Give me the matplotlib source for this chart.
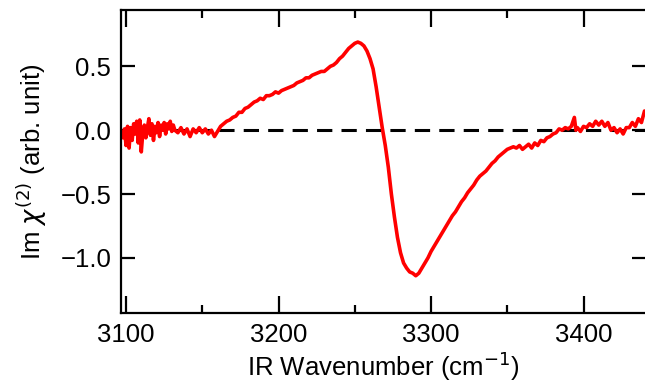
import numpy as np
import matplotlib.pyplot as plt

# espectro Im chi(2)
wavenumber = [
    3097, 3098, 3099, 3100, 3101, 3102, 3103, 3104, 3105, 3106, 3107, 3108, 3109, 3110, 3111, 3112,
    3113, 3114, 3115, 3116, 3117, 3118, 3119, 3120, 3121, 3122, 3123, 3124, 3125, 3126, 3127, 3128,
    3129, 3130, 3131, 3132, 3134, 3136, 3138, 3140, 3142, 3144, 3146, 3148, 3150, 3152, 3154, 3156,
    3158, 3160, 3162, 3164, 3166, 3168, 3170, 3172, 3174, 3176, 3178, 3180, 3182, 3184, 3186, 3188,
    3190, 3192, 3194, 3196, 3198, 3200, 3202, 3204, 3206, 3208, 3210, 3212, 3214, 3216, 3218, 3220,
    3222, 3224, 3226, 3228, 3230, 3232, 3234, 3236, 3238, 3240, 3242, 3244, 3246, 3248, 3250, 3252,
    3254, 3256, 3258, 3260, 3262, 3264, 3266, 3268, 3270, 3272, 3274, 3276, 3278, 3280, 3282, 3284,
    3286, 3288, 3290, 3292, 3294, 3296, 3298, 3300, 3302, 3304, 3306, 3308, 3310, 3312, 3314, 3316,
    3318, 3320, 3322, 3324, 3326, 3328, 3330, 3332, 3334, 3336, 3338, 3340, 3342, 3344, 3346, 3348,
    3350, 3352, 3354, 3356, 3358, 3360, 3362, 3364, 3366, 3368, 3370, 3372, 3374, 3376, 3378, 3380,
    3382, 3384, 3386, 3388, 3390, 3392, 3394, 3395, 3396, 3398, 3400, 3402, 3404, 3406, 3408, 3410,
    3412, 3414, 3416, 3418, 3420, 3422, 3424, 3426, 3428, 3430, 3432, 3434, 3436, 3438, 3440, 3442,
]
im_chi2 = [
    -0.02, -0.06, 0.01, -0.12, 0.03, -0.14, 0.02, -0.08, 0.05, -0.03, 0.07, -0.10, 0.08, -0.17, -0.02, 0.04,
    -0.06, 0.02, 0.09, -0.04, 0.05, -0.08, 0.03, -0.02, 0.06, -0.05, 0.04, 0.00, 0.06, -0.03, 0.05, 0.01,
    0.07, -0.01, 0.04, 0.00, -0.02, 0.02, -0.03, 0.01, -0.05, 0.01, -0.02, 0.02, -0.02, 0.01, -0.03, 0.00,
    -0.05, -0.01, 0.03, 0.05, 0.07, 0.08, 0.10, 0.11, 0.14, 0.14, 0.17, 0.18, 0.20, 0.22, 0.23, 0.25,
    0.24, 0.27, 0.27, 0.28, 0.30, 0.29, 0.31, 0.32, 0.33, 0.34, 0.35, 0.37, 0.38, 0.39, 0.41, 0.41,
    0.43, 0.44, 0.45, 0.46, 0.46, 0.48, 0.50, 0.51, 0.53, 0.56, 0.58, 0.61, 0.64, 0.66, 0.68, 0.69,
    0.68, 0.66, 0.62, 0.56, 0.48, 0.34, 0.18, 0.02, -0.12, -0.29, -0.50, -0.68, -0.84, -0.96, -1.04, -1.08,
    -1.11, -1.12, -1.14, -1.12, -1.08, -1.04, -1.00, -0.95, -0.91, -0.87, -0.83, -0.79, -0.75, -0.71, -0.67, -0.64,
    -0.60, -0.56, -0.53, -0.49, -0.46, -0.43, -0.39, -0.36, -0.34, -0.32, -0.29, -0.26, -0.24, -0.21, -0.19, -0.17,
    -0.15, -0.14, -0.13, -0.14, -0.12, -0.15, -0.13, -0.11, -0.14, -0.10, -0.12, -0.08, -0.09, -0.06, -0.05, -0.03,
    -0.02, 0.01, 0.00, 0.02, 0.01, 0.03, 0.10, 0.00, 0.02, -0.01, 0.03, 0.02, 0.05, 0.03, 0.07, 0.04,
    0.07, 0.03, 0.06, 0.00, 0.02, -0.02, 0.01, -0.03, 0.02, 0.02, 0.06, 0.03, 0.09, 0.06, 0.15, 0.12,
]
xticks = [3100, 3200, 3300, 3400]
xminor = [3150, 3250, 3350]
yticks = [0.5, 0.0, -0.5, -1.0]

plt.rcParams['font.family'] = ['Liberation Sans', 'DejaVu Sans']

fig = plt.figure(figsize=(6.45, 3.9), dpi=100)
# el borde derecho queda fuera de la imagen, como en el original
ax = fig.add_axes([0.1876, 0.197, 0.8140, 0.777])

ax.axhline(0, color='black', lw=2.2, ls=(0, (5, 3)))  # linea de referencia
ax.plot(wavenumber, im_chi2, color='#ff0000', lw=2.6)

ax.set_xlim(3096.7, 3441)
ax.set_ylim(-1.433, 0.94)
ax.set_xticks(xticks)
ax.set_xticks(xminor, minor=True)
ax.set_yticks(yticks)
ax.set_yticklabels(['0.5', '0.0', '\u22120.5', '\u22121.0'])

ax.tick_params(axis='both', which='major', direction='in', length=12, width=1.6,
               labelsize=18.5, pad=7)
ax.tick_params(axis='x', which='minor', direction='in', length=6, width=1.6)
ax.tick_params(axis='x', which='both', top=True)
ax.tick_params(axis='y', which='major', right=True, length=10)

for s in ax.spines.values():
    s.set_linewidth(1.6)

ax.set_xlabel(r'IR Wavenumber (cm$^{-1}$)', fontsize=18.5, labelpad=2)
ax.set_ylabel(r'Im $\chi^{(2)}$ (arb. unit)', fontsize=18.5, labelpad=8)

fig.savefig('out.png', dpi=100)
